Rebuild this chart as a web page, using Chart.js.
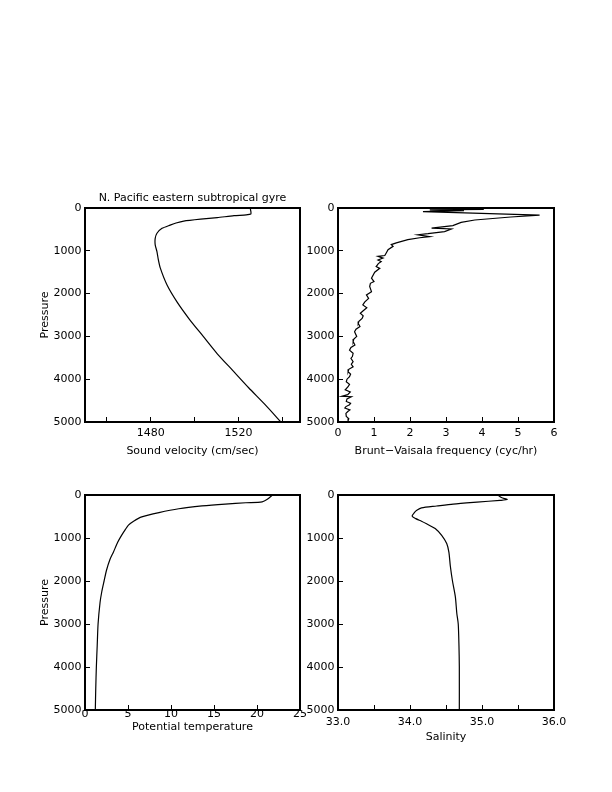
<!DOCTYPE html>
<html>
<head>
<meta charset="utf-8">
<script src="https://cdn.jsdelivr.net/npm/chart.js@4/dist/chart.umd.min.js"></script>
<style>
  html, body { margin: 0; padding: 0; background: #fff; }
  #page { position: relative; width: 612px; height: 792px; overflow: hidden; background: #fff; }
  #page canvas { position: absolute; }
</style>
</head>
<body>
<div id="page">
  <canvas id="sv"></canvas>
  <canvas id="bv"></canvas>
  <canvas id="th"></canvas>
  <canvas id="sa"></canvas>
</div>
<script>
// pressure axis, shared by all four panels
const PRESSURE_TICKS = [0, 1000, 2000, 3000, 4000, 5000];

// sound velocity
const SV_PRES = [0, 80, 140, 160, 180, 225, 260, 305, 350, 400, 475, 590, 710, 860, 1020, 1200, 1400, 1800, 2200, 2600, 3000, 3400, 3800, 4200, 4600, 5000];
const SV_VEL = [1525.3, 1525.6, 1525.6, 1523.5, 1517.9, 1510.3, 1502.7, 1495.0, 1491.5, 1488.8, 1485.1, 1482.8, 1482.0, 1482.0, 1482.8, 1483.4, 1484.3, 1487.4, 1492.0, 1497.6, 1503.9, 1510.2, 1517.4, 1524.6, 1532.2, 1539.3];
const SV_TICKS = [1460, 1480, 1500, 1520, 1540];
const SV_LABELED = [1480, 1520];

// Brunt-Vaisala frequency
const BV_PRES = [30, 45, 60, 85, 165, 210, 280, 335, 410, 470, 490, 550, 600, 625, 670, 695, 740, 815, 855, 895, 975, 1050, 1110, 1130, 1170, 1215, 1250, 1300, 1370, 1410, 1500, 1640, 1720, 1760, 1835, 1955, 2030, 2110, 2200, 2265, 2330, 2400, 2460, 2520, 2580, 2650, 2695, 2770, 2830, 2890, 3000, 3060, 3120, 3200, 3260, 3320, 3395, 3470, 3510, 3590, 3650, 3710, 3770, 3825, 3880, 3940, 4000, 4060, 4120, 4175, 4250, 4300, 4360, 4400, 4410, 4460, 4520, 4560, 4595, 4640, 4675, 4720, 4750, 4800, 4870, 4920, 4970];
const BV_FREQ = [4.05, 2.55, 3.5, 2.36, 5.6, 4.8, 3.8, 3.42, 3.19, 2.6, 3.15, 2.96, 2.5, 2.22, 2.55, 2.27, 1.94, 1.62, 1.48, 1.53, 1.39, 1.34, 1.30, 1.11, 1.25, 1.11, 1.20, 1.12, 1.06, 1.16, 1.02, 0.93, 1.0, 0.90, 0.88, 0.93, 0.79, 0.85, 0.74, 0.69, 0.80, 0.70, 0.62, 0.70, 0.67, 0.58, 0.56, 0.61, 0.50, 0.46, 0.52, 0.44, 0.42, 0.47, 0.36, 0.32, 0.42, 0.40, 0.36, 0.42, 0.37, 0.42, 0.30, 0.28, 0.35, 0.32, 0.25, 0.23, 0.32, 0.28, 0.20, 0.34, 0.27, 0.10, 0.37, 0.25, 0.23, 0.35, 0.32, 0.22, 0.19, 0.33, 0.28, 0.22, 0.23, 0.30, 0.28];
const BV_TICKS = [0, 1, 2, 3, 4, 5, 6];

// potential temperature
const TH_PRES = [0, 100, 160, 180, 210, 255, 320, 410, 510, 610, 700, 800, 940, 1100, 1330, 1500, 1750, 2000, 2250, 2500, 3000, 3500, 4000, 4500, 5000];
const TH_TEMP = [21.8, 21.2, 20.6, 18.7, 16.3, 13.6, 10.9, 8.6, 6.6, 5.65, 5.05, 4.7, 4.25, 3.8, 3.3, 2.9, 2.5, 2.22, 1.95, 1.75, 1.52, 1.42, 1.32, 1.25, 1.2];
const TH_TICKS = [0, 5, 10, 15, 20, 25];

// salinity
const SA_PRES = [0, 60, 105, 125, 165, 210, 256, 300, 350, 410, 490, 550, 610, 670, 780, 940, 1130, 1330, 1650, 2000, 2370, 2750, 3000, 3500, 4000, 5000];
const SA_SAL = [35.22, 35.27, 35.35, 35.25, 34.93, 34.6, 34.37, 34.16, 34.1, 34.06, 34.03, 34.08, 34.16, 34.23, 34.35, 34.44, 34.51, 34.54, 34.56, 34.59, 34.63, 34.65, 34.67, 34.68, 34.685, 34.685];
const SA_TICKS = [33, 33.5, 34, 34.5, 35, 35.5, 36];
const SA_LABELED = [33, 34, 35, 36];

const FONT = { family: "'DejaVu Sans', sans-serif", size: 11 };
const Y_AXIS_W = 70;
const X_AXIS_H = 45;
const PAD = { left: 0, top: 30, right: 30, bottom: 0 };

const toPoints = (xs, ys) => xs.map((x, i) => ({ x, y: ys[i] }));

// box round the plot area, plus the optional heading above it
const framePlugin = {
  id: "frame",
  afterDraw(chart, args, opts) {
    const { ctx, chartArea: a } = chart;
    ctx.save();
    ctx.strokeStyle = "#000";
    ctx.lineWidth = 2;
    ctx.strokeRect(a.left, a.top, a.right - a.left, a.bottom - a.top);
    if (opts.title) {
      ctx.fillStyle = "#000";
      ctx.font = `${FONT.size}px ${FONT.family}`;
      ctx.textAlign = "center";
      ctx.textBaseline = "middle";
      ctx.fillText(opts.title, (a.left + a.right) / 2, a.top - 10);
    }
    ctx.restore();
  }
};

const tickGrid = { display: true, drawOnChartArea: false, drawTicks: true, tickLength: -5, color: "#000", lineWidth: 1 };

const makePanel = (cfg) => {
  const [L, T, R, B] = cfg.area;
  const canvas = document.getElementById(cfg.id);
  const w = R - L + Y_AXIS_W + PAD.right;
  const h = B - T + PAD.top + X_AXIS_H;
  canvas.width = w;
  canvas.height = h;
  canvas.style.width = w + "px";
  canvas.style.height = h + "px";
  canvas.style.left = L - Y_AXIS_W + "px";
  canvas.style.top = T - PAD.top + "px";

  const labeled = cfg.xLabeled || cfg.xTicks;

  return new Chart(canvas, {
    type: "scatter",
    data: {
      datasets: [{
        data: toPoints(cfg.xs, cfg.ys),
        showLine: true,
        borderColor: "#000",
        borderWidth: 1.2,
        pointRadius: 0,
        tension: cfg.tension
      }]
    },
    options: {
      responsive: false,
      animation: false,
      devicePixelRatio: 1,
      layout: { padding: PAD },
      plugins: {
        legend: { display: false },
        tooltip: { enabled: false },
        frame: { title: cfg.title }
      },
      scales: {
        x: {
          type: "linear",
          min: cfg.xMin,
          max: cfg.xMax,
          afterBuildTicks: (s) => { s.ticks = cfg.xTicks.map((value) => ({ value })); },
          afterFit: (s) => { s.height = X_AXIS_H; },
          grid: tickGrid,
          border: { display: false },
          ticks: {
            color: "#000",
            font: FONT,
            padding: cfg.xLabelPad,
            autoSkip: false,
            maxRotation: 0,
            callback: (v) => (labeled.includes(v) ? (cfg.xFormat ? cfg.xFormat(v) : String(v)) : "")
          },
          title: { display: true, text: cfg.xTitle, color: "#000", font: FONT, padding: { top: 0, bottom: cfg.xTitlePad } }
        },
        y: {
          type: "linear",
          reverse: true,
          min: 0,
          max: 5000,
          afterBuildTicks: (s) => { s.ticks = PRESSURE_TICKS.map((value) => ({ value })); },
          afterFit: (s) => { s.width = Y_AXIS_W; },
          grid: tickGrid,
          border: { display: false },
          ticks: { color: "#000", font: FONT, padding: 8.5, autoSkip: false, callback: (v) => String(v) },
          title: { display: Boolean(cfg.yTitle), text: cfg.yTitle || "", color: "#000", font: FONT, padding: { top: 23.4, bottom: 0 } }
        }
      }
    },
    plugins: [framePlugin]
  });
};

makePanel({
  id: "sv", area: [85, 208, 300, 422],
  xs: SV_VEL, ys: SV_PRES, tension: 0.2,
  xMin: 1450, xMax: 1548, xTicks: SV_TICKS, xLabeled: SV_LABELED,
  xTitle: "Sound velocity (cm/sec)", xTitlePad: 9.4, xLabelPad: 10,
  yTitle: "Pressure", title: "N. Pacific eastern subtropical gyre"
});

makePanel({
  id: "bv", area: [338, 208, 554, 422],
  xs: BV_FREQ, ys: BV_PRES, tension: 0,
  xMin: 0, xMax: 6, xTicks: BV_TICKS,
  xTitle: "Brunt\u2212Vaisala frequency (cyc/hr)", xTitlePad: 9.4, xLabelPad: 10
});

makePanel({
  id: "th", area: [85, 495, 300, 710],
  xs: TH_TEMP, ys: TH_PRES, tension: 0.25,
  xMin: 0, xMax: 25, xTicks: TH_TICKS,
  xTitle: "Potential temperature", xTitlePad: 21.1, xLabelPad: 2.5,
  yTitle: "Pressure"
});

makePanel({
  id: "sa", area: [338, 495, 554, 710],
  xs: SA_SAL, ys: SA_PRES, tension: 0.25,
  xMin: 33, xMax: 36, xTicks: SA_TICKS, xLabeled: SA_LABELED, xFormat: (v) => v.toFixed(1),
  xTitle: "Salinity", xTitlePad: 11.7, xLabelPad: 11
});
</script>
</body>
</html>
